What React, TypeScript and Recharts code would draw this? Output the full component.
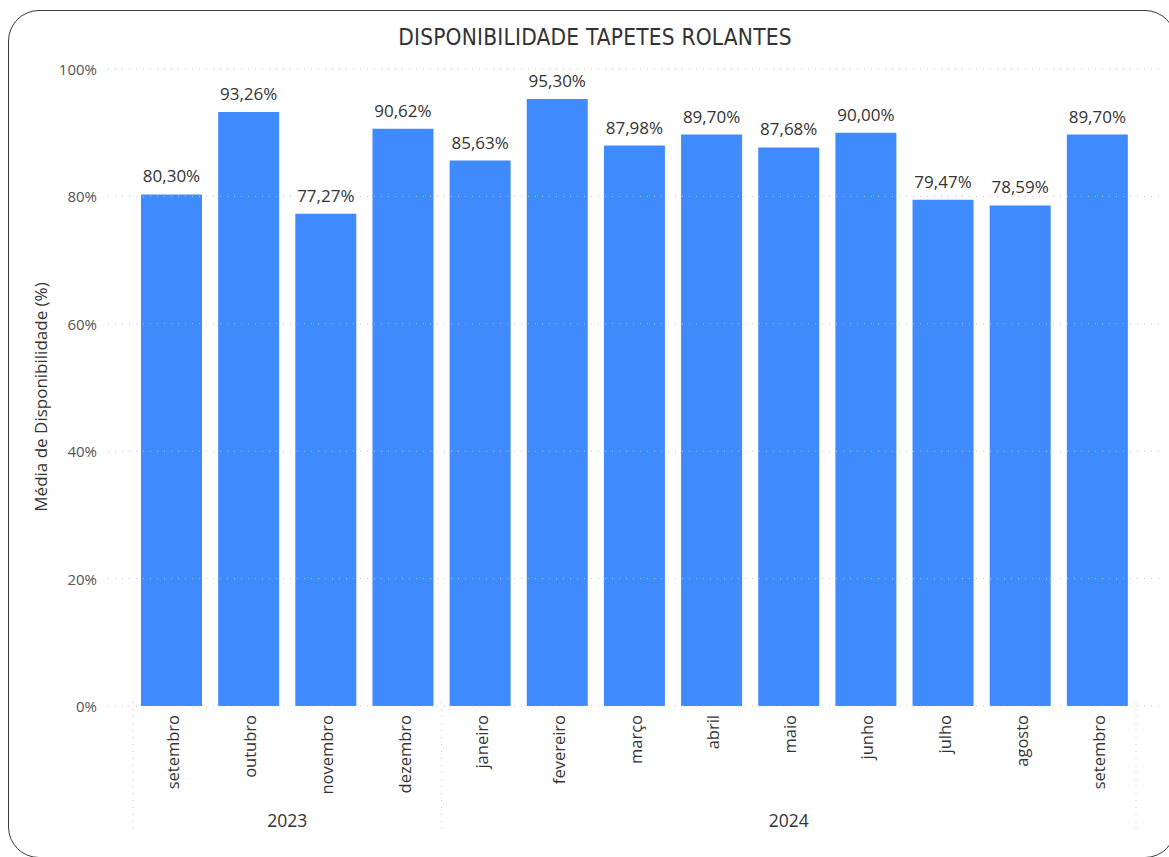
import React from "react";
import { BarChart, Bar, XAxis, YAxis, LabelList } from "recharts";

const months = ["setembro","outubro","novembro","dezembro","janeiro","fevereiro","março","abril","maio","junho","julho","agosto","setembro"];
const years = ["2023","2023","2023","2023","2024","2024","2024","2024","2024","2024","2024","2024","2024"];
const availability = [80.30, 93.26, 77.27, 90.62, 85.63, 95.30, 87.98, 89.70, 87.68, 90.00, 79.47, 78.59, 89.70];
const yTicks = [0, 20, 40, 60, 80, 100];

const data = months.map((m, i) => ({ key: i, month: m, year: years[i], value: availability[i] }));

const W = 1169;
const H = 857;
const PLOT_LEFT = 133;
const PLOT_RIGHT = 1136;
const PLOT_TOP = 69;
const PLOT_BOTTOM = 706;
const BAND = (PLOT_RIGHT - PLOT_LEFT) / months.length;
const FONT = "'Segoe UI', 'Open Sans', 'Noto Sans', sans-serif";

const fmt = (v: number) => v.toFixed(2).replace(".", ",") + "%";

const YTick = (props: any) => {
  const { x, y, payload } = props;
  return (
    <g>
      <line x1={PLOT_LEFT - 25} x2={PLOT_RIGHT + 24} y1={y} y2={y} stroke="#c4c4c4" strokeWidth={1} strokeDasharray="1 6" />
      <text x={x} y={y} textAnchor="end" dominantBaseline="central" fontSize={15} fill="#555" fontFamily={FONT}>
        {payload.value}%
      </text>
    </g>
  );
};

const XTick = (props: any) => {
  const { x, y, payload, index } = props;
  const i = index as number;
  const yr = years[i];
  const first = i === 0 || years[i - 1] !== yr;
  let startIdx = i;
  while (startIdx > 0 && years[startIdx - 1] === yr) startIdx--;
  let endIdx = i;
  while (endIdx < years.length - 1 && years[endIdx + 1] === yr) endIdx++;
  const mid = (startIdx + endIdx) / 2;
  const showYear = Math.floor(mid) === i;
  const yearX = x + (mid - i) * BAND;
  return (
    <g>
      <text
        x={0}
        y={0}
        transform={`translate(${x + 1},${y + 7}) rotate(-90)`}
        textAnchor="end"
        dominantBaseline="central"
        fontSize={16.5}
        fill="#333"
        fontFamily={FONT}
      >
        {payload.value}
      </text>
      {first && (
        <line x1={x - BAND / 2} x2={x - BAND / 2} y1={y - 6} y2={y + 124} stroke="#c4c4c4" strokeDasharray="1 6" />
      )}
      {i === years.length - 1 && (
        <line x1={x + BAND / 2} x2={x + BAND / 2} y1={y - 6} y2={y + 124} stroke="#c4c4c4" strokeDasharray="1 6" />
      )}
      {showYear && (
        <text x={yearX} y={y + 112} textAnchor="middle" dominantBaseline="central" fontSize={17.5} fill="#333" fontFamily={FONT}>
          {yr}
        </text>
      )}
    </g>
  );
};

export default function App() {
  return (
    <div style={{ position: "relative", width: W, height: H, overflow: "hidden", background: "#fff" }}>
      <style>{"body{margin:0;}"}</style>
      <div
        style={{
          position: "absolute",
          left: 8,
          top: 10,
          width: 1168,
          height: 848,
          border: "1.5px solid #3a3a3a",
          borderRadius: 31,
          boxSizing: "border-box",
        }}
      />
      <div
        style={{
          position: "absolute",
          left: 0,
          width: 1190,
          top: 22,
          textAlign: "center",
          fontFamily: "'DejaVu Sans Condensed', Roboto, sans-serif",
          fontSize: 22.5,
          lineHeight: "30px",
          color: "#333",
          letterSpacing: 0.2,
        }}
      >
        DISPONIBILIDADE TAPETES ROLANTES
      </div>
      <div
        style={{
          position: "absolute",
          left: 40,
          top: 397,
          transform: "translate(-50%,-50%) rotate(-90deg)",
          whiteSpace: "nowrap",
          fontFamily: FONT,
          fontSize: 17,
          color: "#333",
        }}
      >
        Média de Disponibilidade (%)
      </div>
      <div style={{ position: "absolute", left: 0, top: 0 }}>
        <BarChart
          width={W}
          height={H}
          data={data}
          margin={{ top: PLOT_TOP, right: W - PLOT_RIGHT, bottom: H - PLOT_BOTTOM - 130, left: 0 }}
          barCategoryGap={8}
        >
          <YAxis
            width={PLOT_LEFT}
            domain={[0, 100]}
            ticks={yTicks}
            axisLine={false}
            tickLine={false}
            tickSize={0}
            tickMargin={36}
            tick={<YTick />}
            interval={0}
          />
          <XAxis
            dataKey="month"
            height={130}
            axisLine={false}
            tickLine={false}
            tickSize={0}
            interval={0}
            tick={<XTick />}
          />
          <Bar dataKey="value" fill="#3F8BFD" isAnimationActive={false}>
            <LabelList
              dataKey="value"
              position="top"
              offset={12}
              formatter={(v: any) => fmt(Number(v))}
              style={{ fontSize: 17, fill: "#333", fontFamily: FONT }}
            />
          </Bar>
        </BarChart>
      </div>
    </div>
  );
}
